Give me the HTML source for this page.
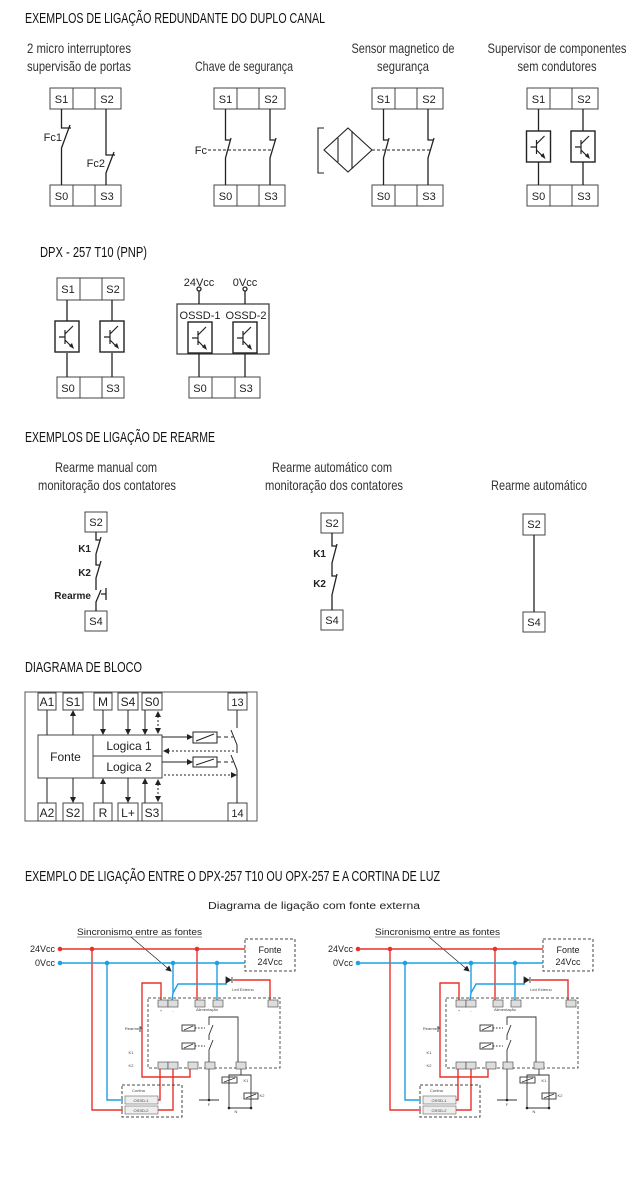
<!DOCTYPE html>
<html><head><meta charset="utf-8"><style>
html,body{margin:0;padding:0;background:#fff}
svg{display:block}
.h{font-family:"Liberation Sans",sans-serif;font-size:15px;fill:#111}
.c{font-family:"Liberation Sans",sans-serif;font-size:14px;fill:#333;text-anchor:middle}
.s{font-family:"Liberation Sans",sans-serif;font-size:9px;fill:#222}
.x{font-family:"Liberation Sans",sans-serif;font-size:4px;fill:#444;text-anchor:middle}
</style></head><body>
<svg width="640" height="1192" viewBox="0 0 640 1192" xmlns="http://www.w3.org/2000/svg">
<defs>
<marker id="a" markerWidth="6" markerHeight="6" refX="5" refY="3" orient="auto" markerUnits="userSpaceOnUse"><path d="M0,0L6,3L0,6z" fill="#222"/></marker>
<marker id="a2" markerWidth="6" markerHeight="6" refX="5" refY="3" orient="auto-start-reverse" markerUnits="userSpaceOnUse"><path d="M0,0L6,3L0,6z" fill="#222"/></marker>
<g id="tr" fill="none" stroke="#222" stroke-width="1.2">
<rect x="0" y="0" width="24" height="31" stroke-width="1.4"/>
<path d="M4,16H10M10,9V23M10,13L18,5M10,19L17,26"/>
<path d="M14,25L19,28L17,22z" fill="#222" stroke="none"/>
</g>
<g id="box" stroke="#444" stroke-width="1" fill="#fff">
<rect x="0" y="0" width="71" height="21"/><path d="M23,0V21M45,0V21"/>
</g>
</defs>

<!-- Section 1 -->
<text class="h" x="25" y="23" textLength="300" lengthAdjust="spacingAndGlyphs">EXEMPLOS DE LIGAÇÃO REDUNDANTE DO DUPLO CANAL</text>
<text class="c" x="79" y="53" textLength="104" lengthAdjust="spacingAndGlyphs">2 micro interruptores</text>
<text class="c" x="79" y="71" textLength="104" lengthAdjust="spacingAndGlyphs">supervisão de portas</text>
<text class="c" x="244" y="71" textLength="98" lengthAdjust="spacingAndGlyphs">Chave de segurança</text>
<text class="c" x="403" y="53" textLength="103" lengthAdjust="spacingAndGlyphs">Sensor magnetico de</text>
<text class="c" x="403" y="71" textLength="52" lengthAdjust="spacingAndGlyphs">segurança</text>
<text class="c" x="557" y="53" textLength="139" lengthAdjust="spacingAndGlyphs">Supervisor de componentes</text>
<text class="c" x="557" y="71" textLength="79" lengthAdjust="spacingAndGlyphs">sem condutores</text>

<g font-family="Liberation Sans,sans-serif" font-size="11" fill="#222" text-anchor="middle">
<g transform="translate(50,88)"><use href="#box"/><text x="11.5" y="15">S1</text><text x="57" y="15">S2</text></g>
<g transform="translate(50,185)"><use href="#box"/><text x="11.5" y="15">S0</text><text x="57" y="15">S3</text></g>
<g transform="translate(214,88)"><use href="#box"/><text x="11.5" y="15">S1</text><text x="57" y="15">S2</text></g>
<g transform="translate(214,185)"><use href="#box"/><text x="11.5" y="15">S0</text><text x="57" y="15">S3</text></g>
<g transform="translate(372,88)"><use href="#box"/><text x="11.5" y="15">S1</text><text x="57" y="15">S2</text></g>
<g transform="translate(372,185)"><use href="#box"/><text x="11.5" y="15">S0</text><text x="57" y="15">S3</text></g>
<g transform="translate(527,88)"><use href="#box"/><text x="11.5" y="15">S1</text><text x="57" y="15">S2</text></g>
<g transform="translate(527,185)"><use href="#box"/><text x="11.5" y="15">S0</text><text x="57" y="15">S3</text></g>
</g>
<g fill="none" stroke="#222" stroke-width="1.3">
<path d="M61.5,109V128H71M61.5,185V148L70,125"/>
<path d="M106,109V155H115M106,185V173L114,152"/>
<path d="M225.5,109V140H230M225.5,185V158L231,138"/>
<path d="M270,109V140H275M270,185V158L276,138"/>
<path d="M208,150H272" stroke-dasharray="3,2" stroke-width="1"/>
<path d="M383.5,109V140H388M383.5,185V158L389,138"/>
<path d="M428,109V140H433M428,185V158L434,138"/>
<path d="M372,150H430" stroke-dasharray="3,2" stroke-width="1"/>
<path d="M348,128L372,150L348,172L324,150Z M338,138V162 M352,131V169" stroke-width="1.1"/>
<path d="M324,128H318V173H324" stroke-width="1.1"/>
<path d="M538.5,109V131M538.5,162V185M583,109V131M583,162V185"/>
</g>
<g font-family="Liberation Sans,sans-serif" font-size="11" fill="#222" text-anchor="end">
<text x="62" y="141">Fc1</text><text x="105" y="167">Fc2</text><text x="207" y="154">Fc</text>
</g>
<use href="#tr" x="526.5" y="131"/><use href="#tr" x="571" y="131"/>

<!-- Section 2 DPX -->
<text class="h" x="40" y="257" textLength="107" lengthAdjust="spacingAndGlyphs">DPX - 257 T10 (PNP)</text>
<g font-family="Liberation Sans,sans-serif" font-size="11" fill="#222" text-anchor="middle">
<g transform="translate(57,278)"><rect width="67" height="22" fill="#fff" stroke="#444"/><path d="M23,0V22M45,0V22" stroke="#444"/><text x="11" y="15">S1</text><text x="56" y="15">S2</text></g>
<g transform="translate(57,377)"><rect width="67" height="21" fill="#fff" stroke="#444"/><path d="M23,0V21M45,0V21" stroke="#444"/><text x="11" y="15">S0</text><text x="56" y="15">S3</text></g>
<g transform="translate(189,377)"><rect width="71" height="21" fill="#fff" stroke="#444"/><path d="M23,0V21M46,0V21" stroke="#444"/><text x="11" y="15">S0</text><text x="57" y="15">S3</text></g>
<text x="199" y="286">24Vcc</text><text x="245" y="286">0Vcc</text>
<text x="200" y="319">OSSD-1</text><text x="246" y="319">OSSD-2</text>
</g>
<g fill="none" stroke="#222" stroke-width="1.3">
<path d="M67,300V321M67,353V377M112,300V321M112,353V377"/>
<rect x="177" y="304" width="92" height="50" stroke="#444"/>
<path d="M199,290V304M245,290V304M199,354V377M245,354V377"/>
<circle cx="199" cy="289" r="2" fill="#fff"/><circle cx="245" cy="289" r="2" fill="#fff"/>
</g>
<use href="#tr" x="55" y="321"/><use href="#tr" x="100" y="321"/>
<use href="#tr" x="188" y="322"/><use href="#tr" x="233" y="322"/>

<!-- Section 3 Rearme -->
<text class="h" x="25" y="442" textLength="190" lengthAdjust="spacingAndGlyphs">EXEMPLOS DE LIGAÇÃO DE REARME</text>
<text class="c" x="106" y="472" textLength="102" lengthAdjust="spacingAndGlyphs">Rearme manual com</text>
<text class="c" x="107" y="490" textLength="138" lengthAdjust="spacingAndGlyphs">monitoração dos contatores</text>
<text class="c" x="332" y="472" textLength="120" lengthAdjust="spacingAndGlyphs">Rearme automático com</text>
<text class="c" x="334" y="490" textLength="138" lengthAdjust="spacingAndGlyphs">monitoração dos contatores</text>
<text class="c" x="539" y="490" textLength="96" lengthAdjust="spacingAndGlyphs">Rearme automático</text>
<g font-family="Liberation Sans,sans-serif" font-size="11" fill="#222" text-anchor="middle">
<rect x="85" y="512" width="22" height="20" fill="#fff" stroke="#444"/><text x="96" y="526">S2</text>
<rect x="85" y="611" width="22" height="20" fill="#fff" stroke="#444"/><text x="96" y="625">S4</text>
<rect x="321" y="513" width="22" height="20" fill="#fff" stroke="#444"/><text x="332" y="527">S2</text>
<rect x="321" y="610" width="22" height="20" fill="#fff" stroke="#444"/><text x="332" y="624">S4</text>
<rect x="523" y="514" width="22" height="21" fill="#fff" stroke="#444"/><text x="534" y="528">S2</text>
<rect x="523" y="612" width="22" height="20" fill="#fff" stroke="#444"/><text x="534" y="626">S4</text>
</g>
<g font-family="Liberation Sans,sans-serif" font-size="10" font-weight="bold" fill="#222" text-anchor="end">
<text x="91" y="552">K1</text><text x="91" y="576">K2</text><text x="91" y="599">Rearme</text>
<text x="326" y="557">K1</text><text x="326" y="587">K2</text>
</g>
<g fill="none" stroke="#222" stroke-width="1.3">
<path d="M96,532V540H100M96,563V554L101,537"/>
<path d="M96,563V565H100M96,586V578L101,561"/>
<path d="M96,586V590M96,611V602L101,590M101,594H106M106,588V600"/>
<path d="M332,533V546H336M332,570V563L337,544"/>
<path d="M332,570V576H336M332,610V595L337,574"/>
<path d="M534,535V612"/>
</g>

<!-- Section 4 Block -->
<text class="h" x="25" y="672" textLength="117" lengthAdjust="spacingAndGlyphs">DIAGRAMA DE BLOCO</text>
<rect x="25" y="692" width="232" height="129" fill="#fff" stroke="#555" stroke-width="1"/>
<g font-family="Liberation Sans,sans-serif" font-size="12" fill="#222" text-anchor="middle">
<g stroke="#444" fill="#fff">
<rect x="38" y="693" width="18" height="17"/><rect x="63" y="693" width="20" height="17"/><rect x="94" y="693" width="18" height="17"/><rect x="118" y="693" width="20" height="17"/><rect x="142" y="693" width="20" height="17"/><rect x="228" y="693" width="19" height="17"/>
<rect x="38" y="803" width="18" height="18"/><rect x="63" y="803" width="20" height="18"/><rect x="94" y="803" width="18" height="18"/><rect x="118" y="803" width="20" height="18"/><rect x="142" y="803" width="20" height="18"/><rect x="228" y="803" width="19" height="18"/>
<rect x="38" y="735" width="55" height="43"/><rect x="93" y="735" width="69" height="21"/><rect x="93" y="756" width="69" height="22"/>
</g>
<text x="47" y="706">A1</text><text x="73" y="706">S1</text><text x="103" y="706">M</text><text x="128" y="706">S4</text><text x="152" y="706">S0</text><text x="237.5" y="706" font-size="11">13</text>
<text x="47" y="817">A2</text><text x="73" y="817">S2</text><text x="103" y="817">R</text><text x="128" y="817">L+</text><text x="152" y="817">S3</text><text x="237.5" y="817" font-size="11">14</text>
<text x="65.5" y="761">Fonte</text><text x="129" y="750">Logica 1</text><text x="129" y="771">Logica 2</text>
</g>
<g fill="none" stroke="#222" stroke-width="1">
<path d="M47,710V735M47,778V803"/>
<path d="M73,735V711" marker-end="url(#a)"/><path d="M73,778V802" marker-end="url(#a)"/>
<path d="M103,710V734" marker-end="url(#a)"/><path d="M103,803V779" marker-end="url(#a)"/>
<path d="M128,710V734" marker-end="url(#a)"/><path d="M128,778V802" marker-end="url(#a)"/>
<path d="M145,710V734" marker-end="url(#a)"/><path d="M145,803V779" marker-end="url(#a)"/>
<path d="M158,712V733" stroke-dasharray="2,2" marker-start="url(#a2)" marker-end="url(#a2)"/>
<path d="M158,780V801" stroke-dasharray="2,2" marker-start="url(#a2)" marker-end="url(#a2)"/>
<path d="M162,737H192" marker-end="url(#a)"/><path d="M162,762H192" marker-end="url(#a)"/>
<rect x="193" y="732" width="24" height="11"/><path d="M196,741L214,734"/>
<rect x="193" y="757" width="24" height="10"/><path d="M196,765L214,759"/>
<path d="M217,737H233M217,762H233" stroke-dasharray="4,3"/>
<path d="M164,751H236M164,775H236" stroke-dasharray="2,2" marker-start="url(#a2)" marker-end="url(#a2)"/>
<path d="M237,710V728M231,730L237,745V753M231,755L237,770V803"/>
</g>

<!-- Section 5 -->
<text class="h" x="25" y="881" textLength="415" lengthAdjust="spacingAndGlyphs">EXEMPLO DE LIGAÇÃO ENTRE O DPX-257 T10 OU OPX-257 E A CORTINA DE LUZ</text>
<text font-family="Liberation Sans,sans-serif" font-size="10" fill="#222" x="208" y="909" textLength="212" lengthAdjust="spacingAndGlyphs">Diagrama de ligação com fonte externa</text>

<g id="wd">
<text class="s" x="77" y="935" textLength="125" lengthAdjust="spacingAndGlyphs">Sincronismo entre as fontes</text>
<path d="M77,937H202" stroke="#222" stroke-width="0.6"/>
<path d="M131,937L171,971" stroke="#222" stroke-width="0.7" marker-end="url(#a)"/>
<text class="s" x="55" y="952" text-anchor="end">24Vcc</text>
<text class="s" x="55" y="966" text-anchor="end">0Vcc</text>
<rect x="245" y="939" width="50" height="32" fill="none" stroke="#444" stroke-dasharray="3,2"/>
<text class="s" x="270" y="953" text-anchor="middle">Fonte</text><text class="s" x="270" y="965" text-anchor="middle">24Vcc</text>
<g fill="none" stroke-width="1.4">
<g stroke="#e8312a">
<path d="M60,949H245"/>
<path d="M92,949V1110H123"/>
<path d="M197,949V1000"/>
<path d="M233,980H270V1000"/>
<path d="M161,1000V983H142V1077H190V1068"/>
<path d="M158,1100H160V1068"/>
<path d="M158,1110H173V1068"/>
</g>
<g stroke="#1fa0e0">
<path d="M60,963H245"/>
<path d="M107,963V1100H123"/>
<path d="M173,963V993L172,1000"/>
<path d="M173,993L178,984H227"/>
<path d="M217,963V1000"/>
</g>
</g>
<g fill="#e8312a"><circle cx="60" cy="949" r="2.3"/><circle cx="92" cy="949" r="2.3"/><circle cx="197" cy="949" r="2.3"/></g>
<g fill="#1fa0e0"><circle cx="60" cy="963" r="2.3"/><circle cx="107" cy="963" r="2.3"/><circle cx="173" cy="963" r="2.3"/><circle cx="217" cy="963" r="2.3"/></g>
<path d="M226,977L231,980L226,983Z M232,977V983" fill="#222" stroke="#222" stroke-width="0.8"/>
<text class="x" x="243" y="991">Led Externo</text>
<rect x="148" y="998" width="132" height="70" fill="none" stroke="#555" stroke-dasharray="3,2"/>
<g fill="#ddd" stroke="#444" stroke-width="0.6">
<rect x="158" y="1000" width="10" height="7"/><rect x="168" y="1000" width="10" height="7"/><rect x="195" y="1000" width="10" height="7"/><rect x="213" y="1000" width="10" height="7"/><rect x="268" y="1000" width="10" height="7"/>
<rect x="158" y="1062" width="10" height="7"/><rect x="168" y="1062" width="10" height="7"/><rect x="188" y="1062" width="10" height="7"/><rect x="205" y="1062" width="10" height="7"/><rect x="236" y="1062" width="10" height="7"/>
</g>
<text class="x" x="207" y="1011">Alimentação</text>
<text class="x" x="161" y="1012">+</text><text class="x" x="173" y="1012">-</text>
<g fill="none" stroke="#333" stroke-width="0.9">
<rect x="182" y="1025" width="13" height="6"/><path d="M184,1030L193,1026"/>
<rect x="182" y="1043" width="13" height="6"/><path d="M184,1048L193,1044"/>
<path d="M195,1028H205M195,1046H205" stroke-dasharray="1.5,1.5"/>
<path d="M209,1062V1050L213,1040M209,1040V1035L213,1025M209,1025V1017H238V1062"/>
<path d="M209,1069V1100M199,1100H219"/>
<path d="M241,1069V1075H229V1108M241,1075H251V1108M229,1108H251"/>
<rect x="222" y="1077" width="15" height="6"/><rect x="244" y="1093" width="14" height="6"/>
<path d="M224,1082L235,1078M246,1098L256,1094"/>
<path d="M142,1028H140V1032M140,1026V1032"/>
</g>
<g fill="#222"><circle cx="209" cy="1100" r="1.3"/><circle cx="229" cy="1108" r="1.3"/><circle cx="251" cy="1108" r="1.3"/></g>
<text class="x" x="132" y="1030">Rearme</text>
<text class="x" x="131" y="1054">K1</text><text class="x" x="131" y="1067">K2</text>
<text class="x" x="246" y="1082">K1</text><text class="x" x="262" y="1097">K2</text>
<text class="x" x="209" y="1106">F</text><text class="x" x="236" y="1113">N</text>
<rect x="122" y="1085" width="60" height="32" fill="none" stroke="#444" stroke-dasharray="3,2"/>
<text class="x" x="132" y="1092" style="text-anchor:start">Cortina</text>
<g fill="#eee" stroke="#666" stroke-width="0.6"><rect x="125" y="1096" width="33" height="8"/><rect x="125" y="1106" width="33" height="8"/></g>
<text class="x" x="141" y="1102" font-size="5">OSSD-1</text><text class="x" x="141" y="1112" font-size="5">OSSD-2</text>
</g>
<use href="#wd" x="298" y="0"/>
</svg>
</body></html>
